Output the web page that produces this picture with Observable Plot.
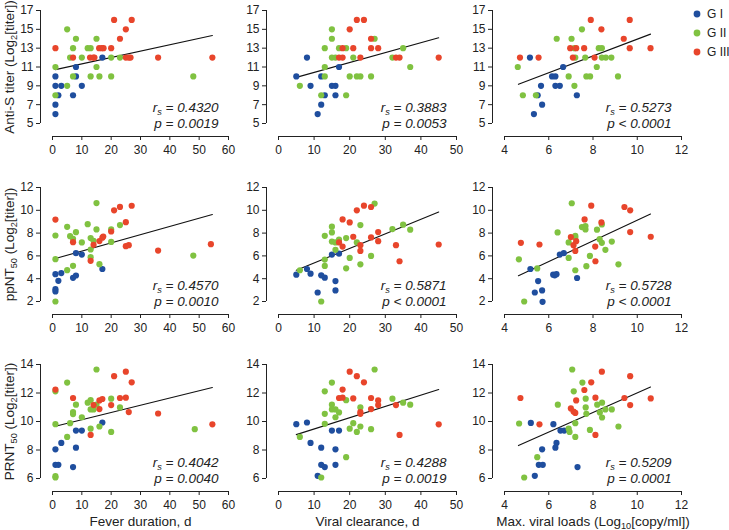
<!DOCTYPE html>
<html><head><meta charset="utf-8">
<script src="https://cdn.jsdelivr.net/npm/d3@7"></script>
<script src="https://cdn.jsdelivr.net/npm/@observablehq/plot@0.6"></script>
<style>
body{margin:0;background:#fff;}
#chart{position:relative;width:729px;height:530px;font-family:"Liberation Sans",Arial,Helvetica,sans-serif;}
#chart svg{position:absolute;left:0;top:0;}
</style></head><body><div id="chart"></div>
<script>
// ---- categories / labels ----
const groups = ["G I", "G II", "G III"];
const groupColors = ["#1f4e9e", "#80c241", "#e8452b"];
const xTitles = ["Fever duration, d", "Viral clearance, d", "Max. viral loads (Log_{10}[copy/ml])"];
const yTitles = ["Anti-S titer (Log_{2}[titer])", "ppNT_{50} (Log_{2}[titer])", "PRNT_{50} (Log_{2}[titer])"];
const xTicks = [[0,10,20,30,40,50,60],[0,10,20,30,40,50],[4,6,8,10,12]];
const yTicks = [[5,7,9,11,13,15,17],[2,4,6,8,10,12],[6,8,10,12,14]];
const rsLabels = [["0.4320","0.3883","0.5273"],["0.4570","0.5871","0.5728"],["0.4042","0.4288","0.5209"]];
const pLabels = [["= 0.0019","= 0.0053","< 0.0001"],["= 0.0010","< 0.0001","< 0.0001"],["= 0.0040","= 0.0019","= 0.0001"]];

// ---- series: [x, y] per group, per panel (row = antibody, col = predictor) ----
// Row 1: Anti-S titer
const antiS_fever_G1 = [[1,10],[1,9],[3,9],[10,9],[8,11],[8,10],[2,8],[7,8],[1,7],[1,6],[17,12]];
const antiS_fever_G2 = [[5,15],[8,14],[15,14],[7,13],[12,13],[13,13],[6,12],[10,12],[20,12],[23,12],[1,11],[15,11],[7,10],[13,10],[16,10],[20,10],[48,10],[5,9],[1,8]];
const antiS_fever_G3 = [[1,13],[21,16],[27,16],[25,15],[23,14],[7,12],[12.8,12],[13.9,12],[14.3,12],[15.9,13],[16.8,13],[17.4,13],[20,13],[25,12],[26,12],[26.6,12],[36,12],[54.5,12]];
const antiS_clear_G1 = [[5,10],[8,12],[9,9],[12,10],[12,7],[11,6],[13,8],[15,9],[16,9],[16,8],[17,11]];
const antiS_clear_G2 = [[6,9],[15,15],[15,14],[13,13],[17,13],[19,13],[15,12],[16,12],[21,12],[13,11],[13,10],[12,8],[19,8],[20,10],[22,10],[23,10],[26,10],[27,14],[32,12],[35,13],[37,11]];
const antiS_clear_G3 = [[22,16],[24,16],[20,15],[26,14],[18,13],[21,13],[26,13],[28,13],[17,12],[18,12],[23,12],[33,12],[34,12],[45,12]];
const antiS_load_G1 = [[5.15,12],[6.65,11],[6.15,10],[6.3,10],[5.65,9],[6.3,9],[6.5,9],[5.5,8],[7.27,8],[5.7,7],[5.33,6]];
const antiS_load_G2 = [[4.6,11],[4.83,8],[5.42,8],[6.36,14],[7.5,15],[7.03,14],[7.16,13],[7.2,12],[7.65,12],[6.9,10],[7.16,9],[7.7,10],[7.87,10],[8.17,11],[8.26,13],[8.4,13],[8.4,12],[8.58,12],[8.83,12],[9.13,10]];
const antiS_load_G3 = [[4.7,12],[5.54,12],[7.9,16],[8.38,15],[6.97,13],[7.24,13],[7.6,13],[7.09,12],[8.07,12],[9.39,14],[9.66,16],[9.66,13],[10.6,13]];
// Row 2: ppNT50
const ppnt_fever_G1 = [[1,4.4],[1,3.08],[1,2.88],[2,3.81],[3,4.49],[7,4.08],[8,4.28],[8,6.24],[10,6.12],[17,4.85]];
const ppnt_fever_G2 = [[1,7.79],[1,5.71],[1,2],[5,8.55],[5,4.75],[6,7.73],[7,7.5],[7,5.13],[8,8.08],[10,7.18],[12,8.78],[13,7.56],[14,7.32],[13,6.56],[13,5.89],[15,10.63],[15,8.32],[16,5.27],[20,8.32],[20,7.23],[23,8.7],[48,6.03]];
const ppnt_fever_G3 = [[1,9.19],[7,7.2],[13,5.57],[14,6.97],[16,7.3],[17,7.6],[17.3,7.7],[20,8.14],[21,10.0],[23,10.3],[25,8.96],[25,6.85],[26,6.94],[27,10.4],[36,6.47],[54,7.03]];
const ppnt_clear_G1 = [[5,4.35],[8,4.85],[9,4.44],[11,2.79],[12,4.3],[13,4.09],[15,6.12],[16,3.79],[16,2.97],[17,6.2]];
const ppnt_clear_G2 = [[6,4.74],[12,2.0],[13,7.76],[13,5.68],[13,5.12],[15,8.56],[15,8.06],[15,7.26],[16,7.18],[16,6.53],[17,7.44],[19,7.56],[19,4.91],[20,5.82],[22,7.18],[23,8.7],[23,5.26],[26,6.0],[27,10.59],[32,8.35],[35,8.74],[37,8.3]];
const ppnt_clear_G3 = [[17,7.18],[18,9.2],[18,6.82],[20,8.94],[21,7.68],[22,10.0],[23,6.94],[23,6.44],[24,10.41],[26,10.29],[26,7.62],[28,8.09],[28,7.29],[33,6.94],[34,5.53],[45,7.0]];
const ppnt_load_G1 = [[5.17,4.85],[5.52,3.79],[5.37,2.79],[5.7,2.97],[5.72,1.97],[6.2,4.35],[6.27,4.3],[6.35,4.4],[6.5,6.12],[6.68,6.24],[7.28,4.06]];
const ppnt_load_G2 = [[4.65,5.7],[4.89,2.0],[5.48,4.9],[6.4,8.06],[6.9,7.18],[6.9,5.82],[7.04,10.62],[7.2,7.76],[7.2,7.62],[7.2,4.74],[7.5,8.53],[7.66,8.62],[7.66,8.32],[7.7,5.1],[7.86,6.0],[8.18,8.3],[8.3,7.47],[8.4,8.76],[8.4,7.15],[8.56,6.53],[8.85,7.26],[9.15,5.26]];
const ppnt_load_G3 = [[4.74,7.15],[5.58,7.0],[7.0,7.65],[7.12,6.94],[7.2,6.44],[7.24,7.29],[7.62,9.2],[7.92,10.41],[8.1,6.82],[8.11,5.53],[8.38,8.94],[9.42,10.29],[9.68,10.0],[9.68,8.09],[10.61,7.68]];
// Row 3: PRNT50
const prnt_fever_G1 = [[1,8.05],[1,6.96],[2,6.96],[3,8.5],[7,6.8],[8,9.36],[10,9.36],[8,8.16],[17,9.93]];
const prnt_fever_G2 = [[1,12.12],[1,9.81],[1,6.16],[1,6.07],[5,12.73],[5,8.92],[6,9.88],[7,10.66],[7,10.52],[8,11.18],[10,10.3],[12,11.32],[13,11.5],[13,10.85],[14,10.85],[13,9.5],[15,13.65],[15,11.18],[16,9.65],[20,11.6],[20,9.27],[23,10.99],[48.5,9.46]];
const prnt_fever_G3 = [[1,12.24],[7,11.65],[13,9.06],[14,11.15],[16,11.48],[17,11.58],[16,10.87],[20,11.15],[21,13.18],[23,11.65],[25,13.5],[25,11.67],[26,10.66],[27,12.75],[36,10.56],[54.5,9.8]];
const prnt_clear_G1 = [[5,9.81],[8,9.93],[9,8.5],[12,8.16],[12,6.96],[13,6.8],[11,6.19],[15,9.36],[17,9.36],[16,8.05],[16,6.96]];
const prnt_clear_G2 = [[6,8.92],[12,6.07],[13,12.12],[13,10.54],[13,9.84],[15,12.73],[15,11.18],[15,10.85],[16,10.85],[16,10.3],[17,10.64],[19,11.5],[19,7.5],[20,9.5],[21,9.88],[22,9.27],[23,10.99],[23,9.65],[26,9.46],[27,13.65],[32,11.6],[35,11.32],[37,11.18]];
const prnt_clear_G3 = [[17,11.65],[18,12.24],[18,11.67],[20,13.5],[21,11.62],[22,13.18],[23,10.66],[23,10.54],[24,12.75],[26,11.65],[26,10.87],[28,11.48],[28,11.15],[33,11.15],[34,9.06],[45,9.8]];
const prnt_load_G1 = [[5.19,9.9],[6.21,9.81],[6.53,9.36],[6.7,9.36],[6.35,8.5],[6.3,8.16],[5.7,8.05],[5.55,6.96],[5.73,6.96],[5.37,6.19],[7.3,6.8]];
const prnt_load_G2 = [[4.66,9.86],[4.89,6.07],[5.48,7.5],[6.41,11.18],[6.9,9.5],[6.94,9.27],[7.06,13.65],[7.13,12.12],[7.2,9.88],[7.2,8.92],[7.52,12.73],[7.67,11.6],[7.67,10.99],[7.7,10.54],[7.86,9.41],[8.19,11.18],[8.31,10.64],[8.41,11.32],[8.41,10.28],[8.56,10.85],[8.85,10.85],[9.15,9.65]];
const prnt_load_G3 = [[4.72,11.65],[5.58,9.8],[7.0,10.92],[7.12,10.7],[7.2,10.6],[7.24,11.48],[7.61,12.21],[7.92,12.75],[8.11,11.67],[8.11,9.06],[8.4,13.5],[9.42,11.65],[9.68,13.18],[9.68,11.15],[10.61,11.62]];

// ---- regression line endpoints: [x0, x1], [y0, y1] ----
const fitX = [[1,54.5],[5,45],[4.63,10.6]];
const fitY = [[[10.72,14.35],[9.9,14.1],[9.16,14.49]],
              [[5.77,9.63],[4.74,9.85],[4.26,9.68]],
              [[9.67,12.38],[9.08,12.24],[8.31,12.42]]];

const panels = [
  [[antiS_fever_G1,antiS_fever_G2,antiS_fever_G3],[antiS_clear_G1,antiS_clear_G2,antiS_clear_G3],[antiS_load_G1,antiS_load_G2,antiS_load_G3]],
  [[ppnt_fever_G1,ppnt_fever_G2,ppnt_fever_G3],[ppnt_clear_G1,ppnt_clear_G2,ppnt_clear_G3],[ppnt_load_G1,ppnt_load_G2,ppnt_load_G3]],
  [[prnt_fever_G1,prnt_fever_G2,prnt_fever_G3],[prnt_clear_G1,prnt_clear_G2,prnt_clear_G3],[prnt_load_G1,prnt_load_G2,prnt_load_G3]]
];

// ---- layout ----
const W = 729, H = 530;
const colX = [[52,228],[278,456],[504,681]];
const rowY = [[10,123],[187,301],[364,478]];
const FONT = "'Liberation Sans', Arial, Helvetica, sans-serif";
const INK = "#222";

function makePanel(ri, ci) {
  const xd = [xTicks[ci][0], xTicks[ci][xTicks[ci].length-1]];
  const yd = [yTicks[ri][0], yTicks[ri][yTicks[ri].length-1]];
  const pts = groups.flatMap((g, gi) => panels[ri][ci][gi].map(([x, y]) => ({x, y, g})));
  const fit = fitX[ci].map((x, i) => ({x, y: fitY[ri][ci][i]}));
  const marks = [
    Plot.ruleX([xd[0]], {dx: -12, stroke: INK, strokeWidth: 1}),
    Plot.axisY({ticks: yTicks[ri], tickSize: 4, tickPadding: 3, dx: -12, label: null, fontSize: 12}),
    Plot.ruleY([yd[0]], {dy: 13, stroke: INK, strokeWidth: 1}),
    Plot.axisX({ticks: xTicks[ci], tickSize: 4, tickPadding: 5, dy: 13, label: null, fontSize: 12}),
    Plot.line(fit, {x: "x", y: "y", stroke: "#111", strokeWidth: 1.1}),
    Plot.dot(pts, {x: "x", y: "y", fill: "g", r: 3.1}),
    Plot.text(["r_{s} = " + rsLabels[ri][ci]], {frameAnchor: "bottom-right", textAnchor: "end", lineAnchor: "middle", dx: -10, dy: -15.5, fontSize: 13.5, fontStyle: "italic", fill: INK}),
    Plot.text(["p " + pLabels[ri][ci]], {frameAnchor: "bottom-right", textAnchor: "end", lineAnchor: "middle", dx: -10, dy: 0, fontSize: 13.5, fontStyle: "italic", fill: INK})
  ];
  if (ci === 0) marks.push(Plot.text([yTitles[ri]], {frameAnchor: "left", rotate: -90, textAnchor: "middle", lineAnchor: "middle", dx: -43, fontSize: 13.5, fill: INK}));
  if (ri === 2) marks.push(Plot.text([xTitles[ci]], {frameAnchor: "bottom", textAnchor: "middle", lineAnchor: "middle", dy: 43, fontSize: 13.5, fill: INK}));
  return Plot.plot({
    width: W, height: H,
    marginLeft: colX[ci][0], marginRight: W - colX[ci][1],
    marginTop: rowY[ri][0], marginBottom: H - rowY[ri][1],
    x: {domain: xd}, y: {domain: yd},
    color: {domain: groups, range: groupColors},
    style: {background: "transparent", fontFamily: FONT, fontSize: "12px", color: INK, overflow: "visible"},
    marks
  });
}

function richify(root) {
  root.querySelectorAll("text").forEach(t => {
    const s = t.textContent;
    if (!s.includes("_{")) return;
    const fs = parseFloat(getComputedStyle(t).fontSize) || 13;
    while (t.firstChild) t.removeChild(t.firstChild);
    let shifted = false;
    s.split(/(_\{[^}]*\})/).forEach(p => {
      if (!p) return;
      const ts = document.createElementNS("http://www.w3.org/2000/svg", "tspan");
      if (p.startsWith("_{")) {
        ts.textContent = p.slice(2, -1);
        ts.setAttribute("font-size", (fs * 0.68).toFixed(2));
        ts.setAttribute("dy", (fs * 0.2).toFixed(2));
        shifted = true;
      } else {
        ts.textContent = p;
        if (shifted) { ts.setAttribute("dy", (-fs * 0.2).toFixed(2)); shifted = false; }
      }
      t.appendChild(ts);
    });
  });
}

const chart = document.getElementById("chart");
for (let ri = 0; ri < 3; ri++) for (let ci = 0; ci < 3; ci++) {
  const svg = makePanel(ri, ci);
  chart.appendChild(svg);
  richify(svg);
}

// legend
const leg = d3.select(chart).append("svg").attr("width", W).attr("height", H).style("pointer-events", "none");
groups.forEach((g, i) => {
  const y = 14 + i * 19;
  leg.append("circle").attr("cx", 697).attr("cy", y).attr("r", 3.4).attr("fill", groupColors[i]);
  leg.append("text").attr("x", 707).attr("y", y).attr("dy", "0.35em").attr("font-size", 12).attr("font-family", FONT).attr("fill", INK).text(g);
});
</script></body></html>
